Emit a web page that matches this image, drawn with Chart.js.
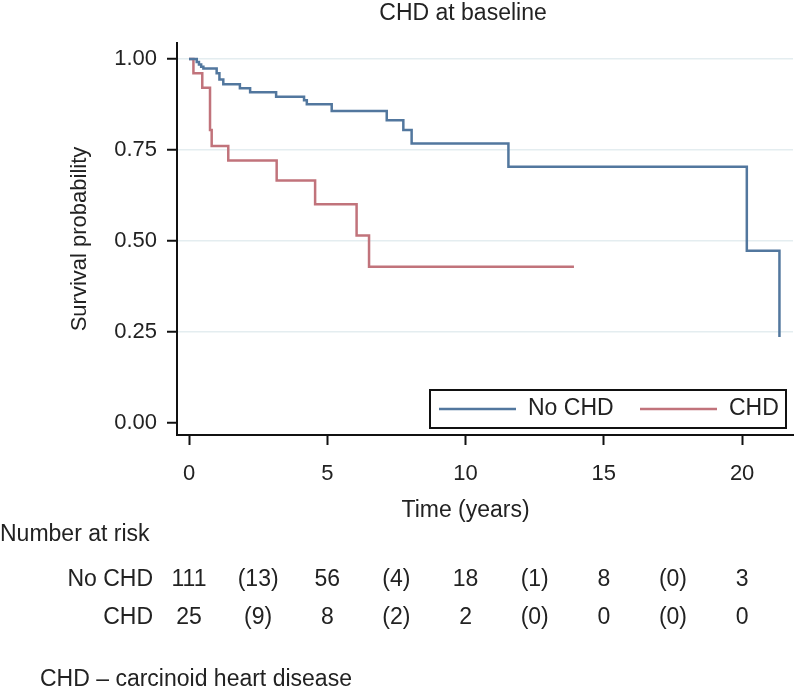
<!DOCTYPE html>
<html>
<head>
<meta charset="utf-8">
<script src="https://cdn.jsdelivr.net/npm/chart.js@4.4.1/dist/chart.umd.min.js"></script>
<style>
  body { margin: 0; background: #fff; }
  canvas { display: block; }
</style>
</head>
<body>
<canvas id="myChart" width="796" height="691"></canvas>
<script>
// Kaplan-Meier curves (time in years, survival probability)
const noChdTime = [0, 0.28, 0.36, 0.44, 0.52, 1.0, 1.1, 1.24, 1.84, 2.21, 3.15, 4.16, 4.26, 5.16, 7.15, 7.75, 8.05, 11.55, 20.17, 21.35]
const noChdSurv = [1.0, 0.992, 0.985, 0.979, 0.974, 0.961, 0.944, 0.931, 0.920, 0.909, 0.896, 0.887, 0.876, 0.857, 0.832, 0.805, 0.768, 0.704, 0.473, 0.236]
const chdTime = [0, 0.16, 0.48, 0.76, 0.82, 1.42, 3.17, 4.56, 6.06, 6.51, 13.92]
const chdSurv = [1.0, 0.961, 0.921, 0.805, 0.761, 0.721, 0.666, 0.601, 0.515, 0.429, 0.429]

const groupLabels = ['No CHD', 'CHD']
const xTicks = [0, 5, 10, 15, 20]
const yTicks = [0, 0.25, 0.5, 0.75, 1]

// number at risk table
const riskTimes = [0, 5, 10, 15, 20]
const noChdAtRisk = [111, 56, 18, 8, 3]
const noChdEvents = [13, 4, 1, 0]
const chdAtRisk = [25, 8, 2, 0, 0]
const chdEvents = [9, 2, 0, 0]

const chartTitle = 'CHD at baseline'
const xTitle = 'Time (years)'
const yTitle = 'Survival probability'
const footNote = 'CHD \u2013 carcinoid heart disease'

const blue = '#52779e'
const red = '#c1737b'
const txt = '#222'
const fam = '"Liberation Sans", Arial, Helvetica, sans-serif'

const toPoints = (t, s) => t.map((x, i) => ({ x: x, y: s[i] }))

// titles, legend and risk table drawn on the same canvas
const extras = {
  id: 'extras',
  afterDraw(chart) {
    const ctx = chart.ctx
    const xs = chart.scales.x
    ctx.save()
    ctx.fillStyle = txt
    ctx.font = '23px ' + fam
    ctx.textBaseline = 'middle'
    ctx.textAlign = 'center'
    ctx.fillText(chartTitle, 463, 14)
    ctx.fillText(xTitle, xs.getPixelForValue(10), 511)

    // legend box inside plot
    ctx.fillStyle = '#fff'
    ctx.fillRect(430, 390, 356, 38)
    ctx.strokeStyle = '#111'
    ctx.lineWidth = 2
    ctx.strokeRect(430, 390, 356, 38)
    const ds = chart.data.datasets
    const lx = [439, 640]
    ds.forEach((d, i) => {
      ctx.strokeStyle = d.borderColor
      ctx.lineWidth = 2.5
      ctx.beginPath()
      ctx.moveTo(lx[i], 409)
      ctx.lineTo(lx[i] + 77, 409)
      ctx.stroke()
      ctx.fillStyle = txt
      ctx.textAlign = 'left'
      ctx.fillText(d.label, lx[i] + 89, 409)
    })

    // number at risk
    ctx.textAlign = 'left'
    ctx.fillText('Number at risk', 0, 535)
    const rows = [
      [groupLabels[0], noChdAtRisk, noChdEvents, 580],
      [groupLabels[1], chdAtRisk, chdEvents, 618]
    ]
    rows.forEach(r => {
      ctx.textAlign = 'right'
      ctx.fillText(r[0], 153, r[3])
      ctx.textAlign = 'center'
      r[1].forEach((v, i) => {
        ctx.fillText(String(v), xs.getPixelForValue(riskTimes[i]), r[3])
      })
      r[2].forEach((v, i) => {
        const mid = (riskTimes[i] + riskTimes[i + 1]) / 2
        ctx.fillText('(' + v + ')', xs.getPixelForValue(mid), r[3])
      })
    })

    ctx.textAlign = 'left'
    ctx.fillText(footNote, 40, 680)
    ctx.restore()
  }
}

const ctx = document.getElementById('myChart').getContext('2d')
const myChart = new Chart(ctx, {
  type: 'line',
  data: {
    datasets: [
      {
        label: groupLabels[0],
        data: toPoints(noChdTime, noChdSurv),
        borderColor: blue,
        borderWidth: 2.5,
        stepped: true,
        pointRadius: 0,
        fill: false
      },
      {
        label: groupLabels[1],
        data: toPoints(chdTime, chdSurv),
        borderColor: red,
        borderWidth: 2.5,
        stepped: true,
        pointRadius: 0,
        fill: false
      }
    ]
  },
  options: {
    responsive: false,
    animation: false,
    devicePixelRatio: 1,
    layout: { padding: { left: 0, top: 43, right: 3, bottom: 186 } },
    plugins: {
      legend: { display: false },
      tooltip: { enabled: false }
    },
    scales: {
      x: {
        type: 'linear',
        min: -0.434,
        max: 21.84,
        afterBuildTicks: (axis) => { axis.ticks = xTicks.map(v => ({ value: v })) },
        afterFit: (scale) => { scale.height = 70 },
        border: { color: '#111', width: 2 },
        grid: { drawOnChartArea: false, tickLength: 10, tickColor: '#111', tickWidth: 2 },
        ticks: { color: txt, padding: 16, font: { size: 22, family: fam }, maxRotation: 0 }
      },
      y: {
        min: -0.033,
        max: 1.044,
        afterBuildTicks: (axis) => { axis.ticks = yTicks.map(v => ({ value: v })) },
        afterFit: (scale) => { scale.width = 177 },
        border: { color: '#111', width: 2 },
        grid: {
          color: (c) => (c.tick && c.tick.value === 0 ? 'rgba(0,0,0,0)' : '#e4edf0'),
          lineWidth: 1.5,
          tickLength: 10,
          tickColor: '#111',
          tickWidth: 2
        },
        ticks: {
          color: txt,
          padding: 10,
          font: { size: 22, family: fam },
          callback: (v) => Number(v).toFixed(2)
        },
        title: {
          display: true,
          text: yTitle,
          color: txt,
          font: { size: 22, family: fam },
          padding: { top: 67, bottom: 0 }
        }
      }
    }
  },
  plugins: [extras]
})
</script>
</body>
</html>
